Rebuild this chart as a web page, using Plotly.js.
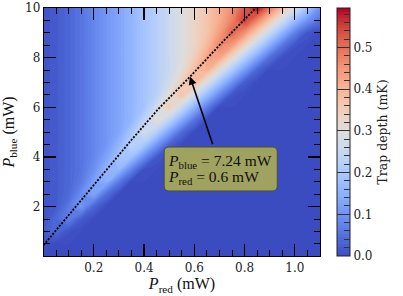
<!DOCTYPE html>
<html><head><meta charset="utf-8">
<script src="https://cdn.plot.ly/plotly-3.0.1.min.js"></script>
<style>body{margin:0;background:#fff}#chart{width:403px;height:296px}</style>
</head><body><div id="chart"></div>
<script>
// P_red grid (mW)
const pRed = [0,0.05,0.1,0.15,0.2,0.25,0.3,0.35,0.4,0.45,0.5,0.55,0.6,0.65,0.7,0.75,0.8,0.85,0.9,0.95,1.0,1.05,1.1];
// P_blue grid (mW)
const pBlue = [0,0.5,1,1.5,2,2.5,3,3.5,4,4.5,5,5.5,6,6.5,7,7.5,8,8.5,9,9.5,10];
// Trap depth (mK), one row per P_blue value
const depth = [
 [0,0,0,0,0,0,0,0,0,0,0,0,0,0,0,0,0,0,0,0,0,0,0],
 [0.01,0,0,0,0,0,0,0,0,0,0,0,0,0,0,0,0,0,0,0,0,0,0],
 [0.017,0.037,0.009,0,0,0,0,0,0,0,0,0,0,0,0,0,0,0,0,0,0,0,0],
 [0.01,0.036,0.069,0.021,0,0,0,0,0,0,0,0,0,0,0,0,0,0,0,0,0,0,0],
 [0.01,0.02,0.06,0.106,0.034,0,0,0,0,0,0,0,0,0,0,0,0,0,0,0,0,0,0],
 [0.01,0.02,0.039,0.088,0.126,0.047,0,0,0,0,0,0,0,0,0,0,0,0,0,0,0,0,0],
 [0.01,0.02,0.035,0.063,0.122,0.145,0.062,0,0,0,0,0,0,0,0,0,0,0,0,0,0,0,0],
 [0.01,0.02,0.035,0.055,0.094,0.157,0.164,0.077,0.006,0,0,0,0,0,0,0,0,0,0,0,0,0,0],
 [0.01,0.02,0.035,0.055,0.08,0.125,0.191,0.182,0.092,0.017,0,0,0,0,0,0,0,0,0,0,0,0,0],
 [0.01,0.02,0.035,0.055,0.08,0.105,0.156,0.23,0.2,0.109,0.029,0,0,0,0,0,0,0,0,0,0,0,0],
 [0.01,0.02,0.035,0.055,0.08,0.105,0.13,0.193,0.269,0.218,0.124,0.042,0,0,0,0,0,0,0,0,0,0,0],
 [0.01,0.02,0.035,0.055,0.08,0.105,0.13,0.16,0.23,0.307,0.236,0.141,0.056,0,0,0,0,0,0,0,0,0,0],
 [0.01,0.02,0.035,0.055,0.08,0.105,0.13,0.16,0.19,0.267,0.349,0.251,0.154,0.068,0,0,0,0,0,0,0,0,0],
 [0.01,0.02,0.035,0.055,0.08,0.105,0.13,0.16,0.19,0.225,0.307,0.371,0.268,0.171,0.083,0.01,0,0,0,0,0,0,0],
 [0.01,0.02,0.035,0.055,0.08,0.105,0.13,0.16,0.19,0.22,0.265,0.346,0.389,0.285,0.187,0.097,0.021,0,0,0,0,0,0],
 [0.01,0.02,0.035,0.055,0.08,0.105,0.13,0.16,0.19,0.22,0.255,0.305,0.388,0.407,0.302,0.203,0.112,0.033,0,0,0,0,0],
 [0.01,0.02,0.035,0.055,0.08,0.105,0.13,0.16,0.19,0.22,0.255,0.29,0.348,0.428,0.424,0.319,0.219,0.128,0.045,0.005,0,0,0],
 [0.01,0.02,0.035,0.055,0.08,0.105,0.13,0.16,0.19,0.22,0.255,0.29,0.33,0.391,0.471,0.442,0.336,0.236,0.143,0.059,0.01,0,0],
 [0.01,0.02,0.035,0.055,0.08,0.105,0.13,0.16,0.19,0.22,0.255,0.29,0.33,0.37,0.437,0.512,0.456,0.35,0.25,0.157,0.071,0.015,0],
 [0.01,0.02,0.035,0.055,0.08,0.105,0.13,0.16,0.19,0.22,0.255,0.29,0.33,0.37,0.415,0.478,0.554,0.474,0.368,0.267,0.172,0.1,0.05],
 [0.01,0.02,0.035,0.055,0.08,0.105,0.13,0.16,0.19,0.22,0.255,0.29,0.33,0.37,0.415,0.46,0.527,0.594,0.49,0.384,0.283,0.187,0.1]
];
// dotted optimum curve
const optRed  = [0, 0.067, 0.153, 0.247, 0.347, 0.46, 0.583, 0.7, 0.844];
const optBlue = [0.44, 1.25, 2.3, 3.45, 4.65, 5.97, 7.23, 8.5, 10.0];
// marked operating point
const markRed = 0.6;
const markBlue = 7.24;
const arrowTip = [0.583, 7.23];

const depthMax = 0.595;
const coolwarm = [
 [0,'rgb(59,76,192)'],[0.0625,'rgb(77,104,215)'],[0.125,'rgb(98,130,234)'],[0.1875,'rgb(119,154,247)'],
 [0.25,'rgb(141,176,254)'],[0.3125,'rgb(163,194,255)'],[0.375,'rgb(184,208,249)'],[0.4375,'rgb(204,217,238)'],
 [0.5,'rgb(221,221,221)'],[0.5625,'rgb(236,211,197)'],[0.625,'rgb(245,196,172)'],[0.6875,'rgb(247,177,147)'],
 [0.75,'rgb(244,154,123)'],[0.8125,'rgb(236,127,99)'],[0.875,'rgb(222,96,77)'],[0.9375,'rgb(203,62,56)'],
 [1,'rgb(180,4,38)']
];
const serif = 'DejaVu Serif, serif';
const mathFont = 'Liberation Serif, serif';
const cbBase = {x:1.0616, xanchor:'left', xpad:0, y:0.5, yanchor:'middle', ypad:0, len:1, lenmode:'fraction', thickness:13};

const traces = [
 {type:'contour', x:pRed, y:pBlue, z:depth, zmin:0, zmax:depthMax, colorscale:coolwarm,
  autocontour:false, contours:{start:0, end:0.6, size:0.0075, coloring:'fill', showlines:false},
  line:{width:0, smoothing:1.1}, hoverinfo:'skip',
  colorbar:Object.assign({}, cbBase, {
    outlinecolor:'#222', outlinewidth:1,
    tickmode:'linear', tick0:0, dtick:0.1, tickformat:'.1f', ticks:'inside', ticklen:13, tickwidth:1, tickcolor:'#333',
    tickfont:{family:serif, size:12, color:'#222'},
    title:{text:'Trap depth (mK)', side:'right', font:{family:serif, size:12.5, color:'#222'}}
  })},
 {type:'heatmap', x:pRed, y:pBlue, z:depth, zmin:0, zmax:depthMax, colorscale:[[0,'rgba(0,0,0,0)'],[1,'rgba(0,0,0,0)']],
  hoverinfo:'skip',
  colorbar:Object.assign({}, cbBase, {
    outlinewidth:0, tickmode:'linear', tick0:0, dtick:0.02, ticks:'inside', ticklen:6, tickwidth:1, tickcolor:'#333',
    showticklabels:false
  })},
 {type:'scatter', mode:'lines', x:optRed, y:optBlue, line:{color:'#000', width:1.8, dash:'2px,1.5px'}, hoverinfo:'skip', showlegend:false}
];

const bx0=0.48, bx1=0.93, by0=2.63, by1=4.40, rx=0.02, ry=0.2;
const boxPath = `M${bx0+rx},${by1} L${bx1-rx},${by1} Q${bx1},${by1} ${bx1},${by1-ry} L${bx1},${by0+ry} Q${bx1},${by0} ${bx1-rx},${by0} L${bx0+rx},${by0} Q${bx0},${by0} ${bx0},${by0+ry} L${bx0},${by1-ry} Q${bx0},${by1} ${bx0+rx},${by1} Z`;

const axisCommon = {showline:true, linecolor:'#000', linewidth:1.3, mirror:'ticks', ticks:'inside', ticklen:12, tickwidth:1.2,
  tickcolor:'#000', showgrid:false, zeroline:false, tickfont:{family:serif, size:12, color:'#222'}};

const layout = {
 width:403, height:296, margin:{l:44, r:83, t:8, b:40},
 paper_bgcolor:'#fff', plot_bgcolor:'#fff', showlegend:false,
 xaxis:Object.assign({}, axisCommon, {range:[0.002,1.1], tickmode:'linear', tick0:0, dtick:0.2, tickformat:'.1f',
   minor:{tickmode:'linear', tick0:0, dtick:0.05, ticks:'inside', ticklen:6, tickwidth:1, tickcolor:'#000'},
   title:{text:'<i>P</i><sub>red</sub> (mW)', font:{family:mathFont, size:16, color:'#111'}, standoff:4}}),
 yaxis:Object.assign({}, axisCommon, {range:[0.01,10], tickmode:'linear', tick0:0, dtick:2,
   minor:{tickmode:'linear', tick0:0, dtick:0.5, ticks:'inside', ticklen:6, tickwidth:1, tickcolor:'#000'},
   title:{text:'<i>P</i><sub>blue</sub> (mW)', font:{family:mathFont, size:16, color:'#111'}, standoff:6}}),
 shapes:[{type:'path', xref:'x', yref:'y', path:boxPath, fillcolor:'#a0a25f', line:{color:'#4d4e36', width:1}}],
 annotations:[
  {x:arrowTip[0], y:arrowTip[1], ax:0.675, ay:4.45, axref:'x', ayref:'y', xref:'x', yref:'y', text:'', showarrow:true,
   arrowhead:2, arrowsize:1, arrowwidth:1.6, arrowcolor:'#000', standoff:0, startstandoff:0},
  {x:0.488, y:3.80, xref:'x', yref:'y', xanchor:'left', yanchor:'middle', showarrow:false,
   text:'<i>P</i><sub>blue</sub> = ' + markBlue.toFixed(2) + ' mW', font:{family:mathFont, size:15.5, color:'#111'}},
  {x:0.488, y:3.19, xref:'x', yref:'y', xanchor:'left', yanchor:'middle', showarrow:false,
   text:'<i>P</i><sub>red</sub> = ' + markRed.toFixed(1) + ' mW', font:{family:mathFont, size:15.5, color:'#111'}}
 ]
};
Plotly.newPlot('chart', traces, layout, {staticPlot:true, displayModeBar:false});
</script>
</body></html>
